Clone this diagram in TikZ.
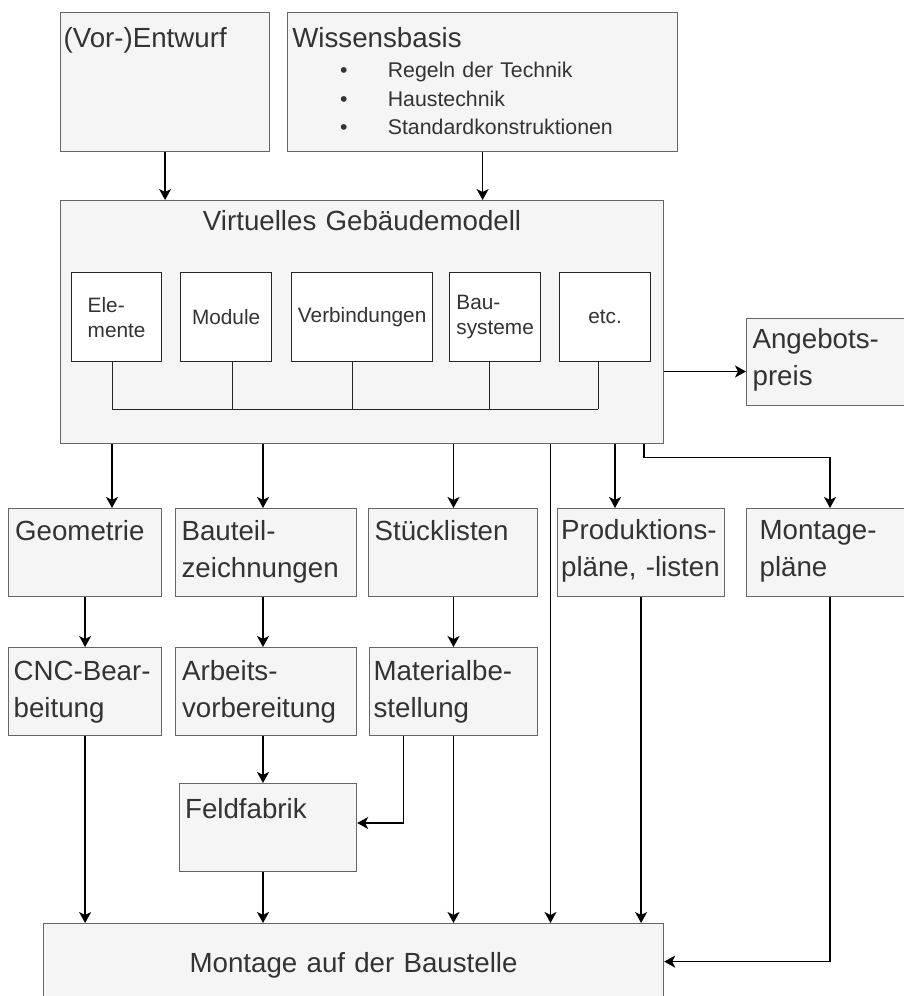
\documentclass[tikz,border=0pt]{standalone}
\usepackage{fontspec}
\setmainfont{Liberation Sans}
\usetikzlibrary{arrows.meta}
\definecolor{boxfill}{HTML}{F5F5F5}
\definecolor{boxline}{HTML}{666666}
\definecolor{txtgray}{HTML}{333333}
\newcommand{\fsbig}{\fontsize{27.7}{37}\selectfont}
\newcommand{\fssmall}{\fontsize{20.8}{25}\selectfont}
\newcommand{\fsitem}{\fontsize{21.3}{28.5}\selectfont}
\begin{document}
\begin{tikzpicture}[x=1pt,y=-1pt]
 % styles for grey boxes, white parts and arrows
 \tikzset{box/.style={draw=boxline, fill=boxfill, line width=1.2pt, anchor=north west, align=left, font=\fsbig, text=txtgray, inner ysep=0pt},
          part/.style={draw=black!85, fill=white, line width=1.3pt, anchor=north west, minimum height=89pt, align=left, font=\fssmall, text=txtgray, inner sep=0pt},
          arr/.style={-{Stealth[length=11pt,width=12pt,inset=3pt]}, line width=1.3pt}}
 \useasboundingbox (0,0) rectangle (904,996);

 %input boxes
 \node[box, text width=203pt, inner xsep=3pt, text height=34.7pt, text depth=104.3pt] (entwurf) at (60,12) {(Vor-)Entwurf};
 \node[box, text width=380.6pt, inner xsep=4.7pt, text height=34.7pt, text depth=104.3pt, font=\fsitem] (wissen) at (287,12)
  {{\fsbig Wissensbasis}\\[2pt]
   \hspace*{47.9pt}\textbullet\hspace*{40.2pt}Regeln der Technik\\
   \hspace*{47.9pt}\textbullet\hspace*{40.2pt}Haustechnik\\
   \hspace*{47.9pt}\textbullet\hspace*{40.2pt}Standardkonstruktionen};

 %building model with its parts
 \node[box, text width=593pt, inner xsep=5pt, align=center, text height=30pt, text depth=213pt] (model) at (60,200) {Virtuelles Gebäudemodell};
 \node[part, minimum width=90pt] (ele) at (71,272) {Ele-\\mente};
 \node[part, minimum width=91pt] (mod) at (180,272) {Module};
 \node[part, minimum width=141pt] (verb) at (291,272) {Verbindungen};
 \node[part, minimum width=91pt] (bau) at (449,272) {Bau-\\systeme};
 \node[part, minimum width=91pt] (etc) at (559,272) {etc.};
 \foreach \n/\dx in {ele/-4.3, mod/6.5, verb/-9.5, bau/-5.5, etc/-6.8}
  \draw[line width=1.3pt, black!85] ([xshift=\dx pt]\n.south) -- ([shift={(\dx,47)}]\n.south);
 \draw[line width=1.3pt, black!85] ([shift={(-4.3,47)}]ele.south) -- ([shift={(-6.8,47)}]etc.south);

 \node[box, text width=148pt, inner xsep=6pt, text height=30.3pt, text depth=56.7pt] (angebot) at (746,318) {Angebots-\\preis};

 %outputs of the model
 \node[box, text width=140pt, inner xsep=6.5pt, text height=32pt, text depth=56pt] (geo) at (8,508) {Geometrie};
 \node[box, text width=169pt, inner xsep=6pt, text height=32pt, text depth=56pt] (bauteil) at (175,508) {Bauteil-\\zeichnungen};
 \node[box, text width=157pt, inner xsep=6pt, text height=32pt, text depth=56pt] (stueck) at (368,508) {Stücklisten};
 \node[box, text width=160pt, inner xsep=3.5pt, text height=31pt, text depth=57pt] (prod) at (557,508) {Produktions-\\pläne, -listen};
 \node[box, text width=134pt, inner xsep=13pt, text height=31pt, text depth=57pt] (montp) at (746,508) {Montage-\\pläne};

 \node[box, text width=143pt, inner xsep=5pt, text height=33pt, text depth=55pt] (cnc) at (8,647) {CNC-Bear-\\beitung};
 \node[box, text width=168pt, inner xsep=6.5pt, text height=33pt, text depth=55pt] (arbeits) at (175,647) {Arbeits-\\vorbereitung};
 \node[box, text width=160pt, inner xsep=4pt, text height=33pt, text depth=55pt] (material) at (369,647) {Materialbe-\\stellung};
 \node[box, text width=166pt, inner xsep=5.5pt, text height=35.3pt, text depth=52.7pt] (feld) at (179,783) {Feldfabrik};

 \node[box, text width=610pt, inner xsep=5pt, align=center, text height=49pt, text depth=27pt] (baustelle) at (43,923) {Montage auf der Baustelle};

 %x and y positions of the connectors
 \coordinate (xg) at (112,0);
 \coordinate (xa) at (263,0);
 \coordinate (xs) at (453.5,0);
 \coordinate (xm) at (550.5,0);
 \coordinate (xp) at (615,0);
 \coordinate (xq) at (644,0);
 \coordinate (xr) at (830,0);
 \coordinate (xf) at (403.5,0);
 \coordinate (ya) at (0,371.5);
 \coordinate (yf) at (0,823);

 %arrows
 \draw[arr] (entwurf.south) -- (entwurf.south |- model.north);
 \draw[arr] (wissen.south) -- (wissen.south |- model.north);
 \draw[arr] (model.east |- ya) -- (angebot.west |- ya);
 \draw[arr] (model.south -| xg) -- (geo.north -| xg);
 \draw[arr] (model.south -| xa) -- (bauteil.north -| xa);
 \draw[arr] (model.south -| xs) -- (stueck.north -| xs);
 \draw[arr] (model.south -| xp) -- (prod.north -| xp);
 \draw[arr] (model.south -| xq) -- ++(0,13) -| (montp.north -| xr);
 \draw[arr] (model.south -| xm) -- (baustelle.north -| xm);
 \draw[arr] (geo.south) -- (cnc.north);
 \draw[arr] (bauteil.south -| xa) -- (arbeits.north -| xa);
 \draw[arr] (stueck.south -| xs) -- (material.north -| xs);
 \draw[arr] (arbeits.south -| xa) -- (feld.north -| xa);
 \draw[arr] (material.south -| xf) |- (feld.east |- yf);
 \draw[arr] (cnc.south) -- (cnc.south |- baustelle.north);
 \draw[arr] (feld.south -| xa) -- (baustelle.north -| xa);
 \draw[arr] (material.south -| xs) -- (baustelle.north -| xs);
 \draw[arr] (prod.south) -- (prod.south |- baustelle.north);
 \draw[arr] (montp.south -| xr) |- (baustelle.east);
\end{tikzpicture}
\end{document}
